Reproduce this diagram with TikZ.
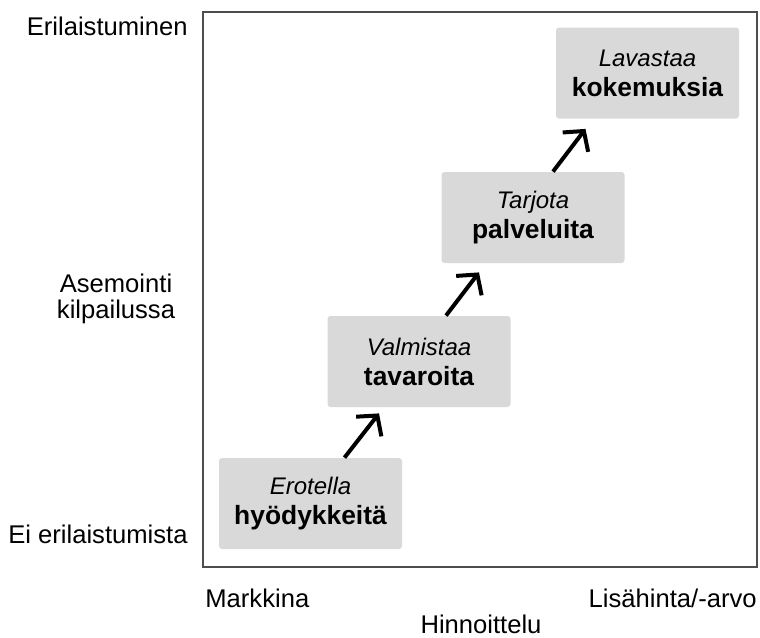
\documentclass[tikz,border=0pt]{standalone}
\usepackage{fontspec}
\setmainfont{Liberation Sans}
\usetikzlibrary{arrows.meta}
\definecolor{boxfill}{HTML}{D9D9D9}
\definecolor{framecol}{HTML}{4D4D4D}
\newcommand\steplines[2]{{\fontsize{12}{15}\selectfont\itshape #1}\\{\fontsize{13.2}{15}\selectfont\bfseries #2}}
\begin{document}
\begin{tikzpicture}[x=0.5pt,y=-0.5pt,
  stagebox/.style={fill=boxfill,rounded corners=1.5pt,minimum width=91.5pt,minimum height=45.5pt,align=center,inner sep=0pt,font=\fontsize{13}{15}\selectfont},
  stagearrow/.style={line width=2pt,-{Straight Barb[length=7pt,width=16pt]}},
  axislabel/.style={font=\fontsize{12.8}{13.2}\selectfont,inner sep=0pt,align=center}]
  \useasboundingbox (0,0) rectangle (760,637);
  % plot frame
  \node[draw=framecol,line width=0.75pt,minimum width=277pt,minimum height=277.5pt,inner sep=0pt] (frame) at (480,289.5) {};
  % stages
  \node[stagebox] (b1) at (310.5,503.5) {\steplines{Erotella}{hyödykkeitä}};
  \node[stagebox] (b2) at (419,361.5) {\steplines{Valmistaa}{tavaroita}};
  \node[stagebox] (b3) at (533,217.5) {\steplines{Tarjota}{palveluita}};
  \node[stagebox] (b4) at (647.5,73) {\steplines{Lavastaa}{kokemuksia}};
  % steps between stages
  \draw[stagearrow] ([xshift=17pt]b1.north) -- ([xshift=-20pt,yshift=-3pt]b2.south);
  \draw[stagearrow] ([xshift=13.5pt]b2.north) -- ([xshift=-27pt,yshift=-4.5pt]b3.south);
  \draw[stagearrow] ([xshift=10pt]b3.north) -- ([xshift=-31pt,yshift=-5pt]b4.south);
  % vertical axis labels
  \node[axislabel,anchor=base east] (ytop) at (188,35) {Erilaistuminen};
  \node[axislabel] (ymid) at (116,299) {Asemointi\\kilpailussa};
  \node[axislabel,anchor=base east] (ybot) at (188,543) {Ei erilaistumista};
  % horizontal axis labels
  \node[axislabel,anchor=base west] (xleft) at (205,607) {Markkina};
  \node[axislabel,anchor=base east] (xright) at (757,607) {Lisähinta/-arvo};
  \node[axislabel,anchor=base] (xtitle) at (481,633) {Hinnoittelu};
\end{tikzpicture}
\end{document}
